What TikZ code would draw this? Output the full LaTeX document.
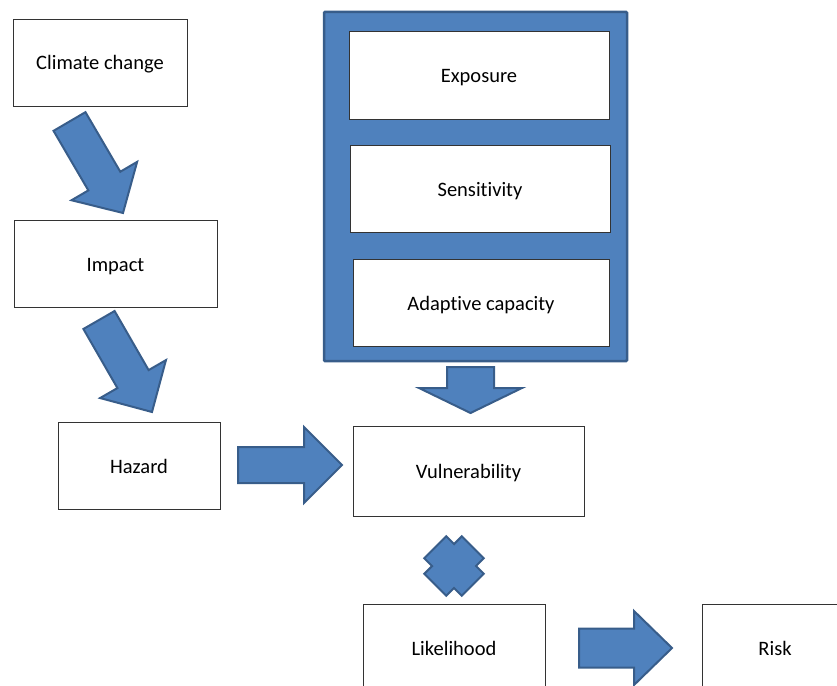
\documentclass[tikz,border=0pt]{standalone}
\usepackage{fontspec}
\setmainfont[Ligatures=NoCommon]{Carlito}
\usetikzlibrary{calc}
\definecolor{blk}{HTML}{4F81BD}
\definecolor{blkline}{HTML}{385D8A}
\tikzset{
  box/.style={draw=black!80, line width=0.9pt, fill=white, inner sep=0pt,
    text height=15pt, text depth=0pt,
    font=\fontsize{20.5}{24}\selectfont},
  arrowfill/.style={fill=blk, draw=blkline, line width=2pt, line join=miter},
  frame/.style={fill=blk, draw=blkline, line width=2.5pt, rounded corners=1pt}
}
% #1 tail, #2 tip, #3 shaft half width, #4 head half width, #5 head length
\newcommand\blockarr[5]{%
  \coordinate (hb) at ($(#2)!#5!(#1)$);
  \draw[arrowfill] ($(#1)!#3!90:(#2)$) -- ($(hb)!#3!-90:(#1)$) -- ($(hb)!#4!-90:(#1)$)
    -- (#2) -- ($(hb)!#4!90:(#1)$) -- ($(hb)!#3!90:(#1)$) -- ($(#1)!#3!-90:(#2)$) -- cycle;
}
\begin{document}
\begin{tikzpicture}[x=1pt,y=-1pt]
\useasboundingbox (0,0) rectangle (837,685);
% container
\draw[frame] (324,12) rectangle (627,361);
\node[box, minimum width=260pt, minimum height=88pt] (exp) at (479,75) {Exposure};
\node[box, minimum width=260pt, minimum height=87pt] (sen) at (480,188.5) {Sensitivity};
\node[box, minimum width=256pt, minimum height=87pt] (ada) at (481,302.5) {Adaptive capacity};
% left column
\node[box, minimum width=174pt, minimum height=87pt] (cc) at (100,62.5) {Climate change};
\node[box, minimum width=203pt, minimum height=87pt] (imp) at (115.5,263.5) {Impact};
\node[box, minimum width=162pt, minimum height=87pt] (haz) at (139,465.5) {Hazard};
\node[box, minimum width=231pt, minimum height=90pt] (vul) at (468.5,471) {Vulnerability};
\node[box, minimum width=182pt, minimum height=88pt] (lik) at (454,648) {Likelihood};
\node[box, minimum width=146pt, minimum height=88pt] (risk) at (775,648) {Risk};
% arrow end points
\coordinate (a1t) at (69.5,121.5); \coordinate (a1h) at (123,213);
\coordinate (a2t) at (99,320);     \coordinate (a2h) at (152,412);
\coordinate (a3t) at (238,465);    \coordinate (a3h) at (342,465);
\coordinate (a4t) at (470.5,367);  \coordinate (a4h) at (470.5,413);
\coordinate (a5t) at (579,648);    \coordinate (a5h) at (672,648);
\blockarr{a1t}{a1h}{18.5pt}{38pt}{37pt}
\blockarr{a2t}{a2h}{18pt}{38pt}{38pt}
\blockarr{a3t}{a3h}{18pt}{38pt}{38pt}
\blockarr{a4t}{a4h}{23.5pt}{51.5pt}{25pt}
\blockarr{a5t}{a5h}{19.5pt}{37pt}{38pt}
% multiply sign
\coordinate (mul) at (454,566);
\draw[arrowfill, shift={(mul)}, rotate=45]
  (15.5,26.5) -- (15.5,15.5) -- (26.5,15.5) -- (26.5,-15.5) -- (15.5,-15.5) -- (15.5,-26.5)
  -- (-15.5,-26.5) -- (-15.5,-15.5) -- (-26.5,-15.5) -- (-26.5,15.5) -- (-15.5,15.5) -- (-15.5,26.5) -- cycle;
\end{tikzpicture}
\end{document}
